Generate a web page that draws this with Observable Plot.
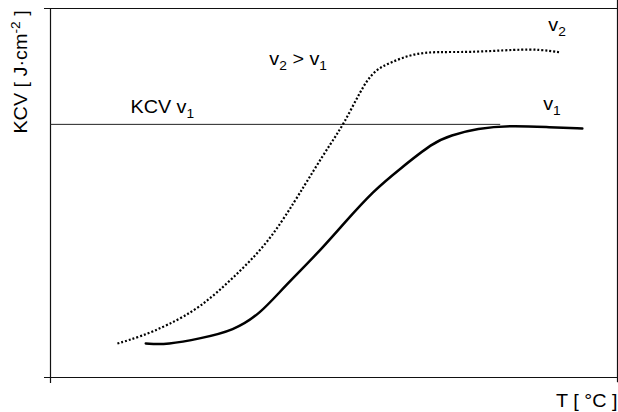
<!DOCTYPE html>
<html>
<head>
<meta charset="utf-8">
<script src="https://cdn.jsdelivr.net/npm/d3@7"></script>
<script src="https://cdn.jsdelivr.net/npm/@observablehq/plot@0.6"></script>
<style>
  html, body { margin: 0; padding: 0; background: #fff; }
  #chart { width: 618px; height: 412px; }
</style>
</head>
<body>
<div id="chart"></div>
<script>
// Temperature (arbitrary 0–100 scale) and KCV (arbitrary 0–100 scale)
const T_v1   = [16.8, 20.6, 26.5, 32.3, 37.0, 41.1, 47.1, 51.7, 57.0, 61.7, 67.5, 70.5, 75.3, 81.1, 88.2, 93.8];
const KCV_v1 = [ 9.2,  8.9, 10.6, 12.7, 17.3, 24.4, 33.6, 41.7, 50.7, 56.6, 63.7, 65.6, 67.5, 68.3, 67.8, 67.5];
const T_v2   = [11.8, 15.9, 20.6, 26.5, 32.3, 38.3, 43.2, 46.4, 49.4, 51.7, 54.7, 57.0, 60.0, 64.0, 68.3, 73.5, 82.4, 86.4, 89.9];
const KCV_v2 = [ 9.2, 11.1, 14.1, 19.0, 27.1, 36.3, 48.0, 56.1, 63.4, 68.6, 77.8, 83.2, 85.4, 87.8, 88.3, 88.1, 88.9, 88.9, 88.1];

const refLevel = 68.6;   // KCV v1 reference level
const refEnd = 79.4;

const labelText = ["KCV v_{1}", "v_{2} > v_{1}", "v_{2}", "v_{1}"];
const labelX    = [14.1, 38.6, 87.8, 86.9];
const labelY    = [71.8, 84.6, 93.8, 72.4];

const xTitle = "T [ °C ]";
const yTitle = "KCV [ J·cm^{-2} ]";

const v1 = T_v1.map((t, i) => ({T: t, K: KCV_v1[i]}));
const v2 = T_v2.map((t, i) => ({T: t, K: KCV_v2[i]}));
const labels = labelText.map((s, i) => ({s, x: labelX[i], y: labelY[i]}));

const font = "'Liberation Sans', Arial, sans-serif";
const txt = {lineAnchor: "bottom", fontSize: 18, fill: "#000"};

const plot = Plot.plot({
  width: 618,
  height: 412,
  marginLeft: 50,
  marginRight: 1,
  marginTop: 8,
  marginBottom: 35,
  x: {domain: [0, 100], axis: null},
  y: {domain: [0, 100], axis: null},
  style: {fontFamily: font, fontSize: "18px", color: "#000", background: "#fff", overflow: "visible"},
  marks: [
    // frame
    Plot.ruleX([0], {y1: -1.6, y2: 100, stroke: "#111", strokeWidth: 1.2}),
    Plot.ruleX([100], {y1: -1.4, y2: 102.2, stroke: "#111", strokeWidth: 1.2}),
    Plot.ruleY([100], {x1: -1.06, x2: 100, stroke: "#111", strokeWidth: 1.2}),
    Plot.ruleY([0], {x1: -1.06, x2: 100, stroke: "#111", strokeWidth: 1.2}),
    // reference level
    Plot.ruleY([refLevel], {x1: 0, x2: refEnd, stroke: "#222", strokeWidth: 1}),
    // curves
    Plot.line(v2, {x: "T", y: "K", curve: "basis", stroke: "#000", strokeWidth: 2.2, strokeDasharray: "2 2", strokeLinecap: "butt"}),
    Plot.line(v1, {x: "T", y: "K", curve: "basis", stroke: "#000", strokeWidth: 2.5}),
    // labels
    Plot.text(labels, {x: "x", y: "y", text: "s", textAnchor: "start", ...txt}),
    Plot.text([xTitle], {x: 100, y: -8.13, text: d => d, textAnchor: "end", ...txt}),
    Plot.text([yTitle], {x: -4.23, y: 99.5, text: d => d, rotate: -90, textAnchor: "end", ...txt})
  ]
});

// Render _{sub} and ^{sup} markup as tspans; widen glyphs like the reference
d3.select(plot).selectAll("text").each(function() {
  const el = d3.select(this);
  const tr = el.attr("transform") || "";
  el.attr("transform", tr + " scale(1.1,1)");
  const str = this.textContent;
  if (!/[_^]\{/.test(str)) return;
  el.text(null);
  const re = /([_^])\{([^}]*)\}/g;
  let last = 0, m, shift = 0;
  const add = (t0, dy, small) => {
    const t = el.append("tspan").text(t0);
    if (dy) t.attr("dy", dy);
    if (small) t.attr("font-size", 12.5);
  };
  while ((m = re.exec(str))) {
    if (m.index > last) { add(str.slice(last, m.index), -shift || null, false); shift = 0; }
    const d = m[1] === "_" ? 5 : -7;
    add(m[2], d - shift, true);
    shift = d;
    last = re.lastIndex;
  }
  if (last < str.length) { add(str.slice(last), -shift || null, false); }
});

document.getElementById("chart").appendChild(plot);
</script>
</body>
</html>
